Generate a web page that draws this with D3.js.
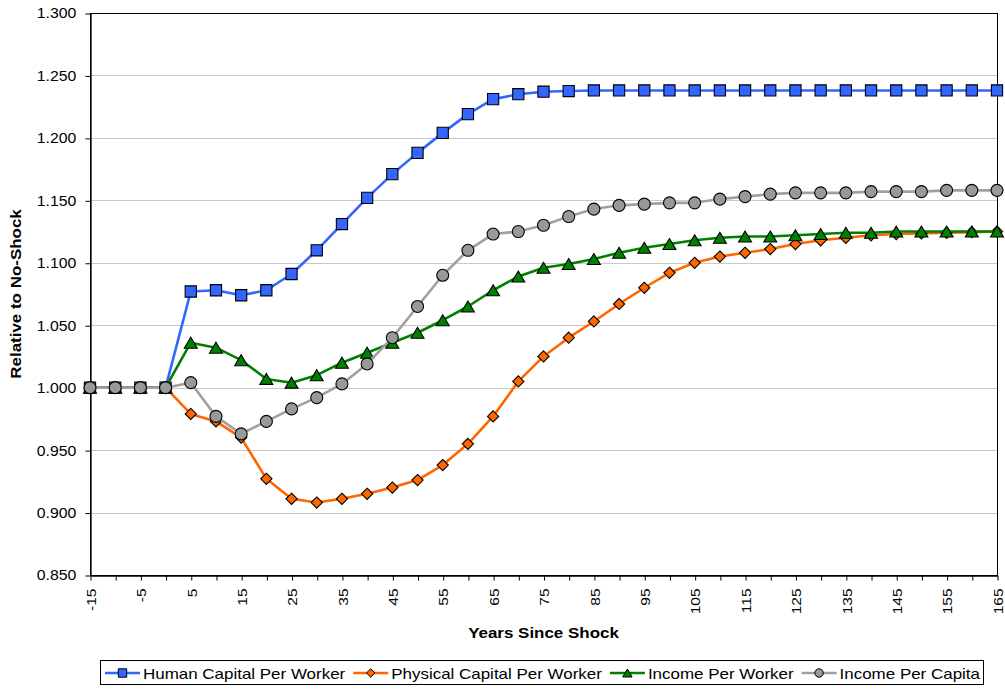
<!DOCTYPE html>
<html>
<head>
<meta charset="utf-8">
<script src="https://cdn.jsdelivr.net/npm/d3@7"></script>
<style>
  html, body { margin: 0; padding: 0; background: #fff; }
  svg { display: block; font-family: "Liberation Sans", Arial, sans-serif; }
</style>
</head>
<body>
<svg id="chart" width="1005" height="690"></svg>
<script>
// ---------------- DATA ----------------
const years = [-15, -10, -5, 0, 5, 10, 15, 20, 25, 30, 35, 40, 45, 50, 55, 60, 65, 70, 75, 80,
  85, 90, 95, 100, 105, 110, 115, 120, 125, 130, 135, 140, 145, 150, 155, 160, 165];

const humanCapital = [1.000, 1.000, 1.000, 1.000, 1.077, 1.078, 1.074, 1.078, 1.091, 1.110,
  1.131, 1.152, 1.171, 1.188, 1.204, 1.219, 1.231, 1.235, 1.237, 1.2375,
  1.238, 1.238, 1.238, 1.238, 1.238, 1.238, 1.238, 1.238, 1.238, 1.238,
  1.238, 1.238, 1.238, 1.238, 1.238, 1.238, 1.238];

const physicalCapital = [1.000, 1.000, 1.000, 1.000, 0.979, 0.973, 0.960, 0.927, 0.911, 0.908,
  0.911, 0.915, 0.920, 0.926, 0.938, 0.955, 0.977, 1.005, 1.025, 1.040,
  1.053, 1.067, 1.080, 1.092, 1.100, 1.105, 1.108, 1.111, 1.115, 1.118,
  1.120, 1.122, 1.123, 1.1235, 1.124, 1.1245, 1.125];

const incomeWorker = [1.000, 1.000, 1.000, 1.000, 1.036, 1.032, 1.022, 1.007, 1.004, 1.010,
  1.020, 1.028, 1.036, 1.044, 1.054, 1.065, 1.078, 1.089, 1.096, 1.099,
  1.103, 1.108, 1.112, 1.115, 1.118, 1.120, 1.121, 1.121, 1.122, 1.123,
  1.124, 1.124, 1.125, 1.125, 1.125, 1.125, 1.125];

const incomeCapita = [1.000, 1.000, 1.000, 1.000, 1.004, 0.977, 0.963, 0.973, 0.983, 0.992,
  1.003, 1.019, 1.040, 1.065, 1.090, 1.110, 1.123, 1.125, 1.130, 1.137,
  1.143, 1.146, 1.147, 1.148, 1.148, 1.151, 1.153, 1.155, 1.156, 1.156,
  1.156, 1.157, 1.157, 1.157, 1.158, 1.158, 1.158];

const seriesNames = ["Human Capital Per Worker", "Physical Capital Per Worker", "Income Per Worker", "Income Per Capita"];

const xTickLabels = ["-15", "-5", "5", "15", "25", "35", "45", "55", "65", "75", "85", "95",
  "105", "115", "125", "135", "145", "155", "165"];
const yTicks = [0.850, 0.900, 0.950, 1.000, 1.050, 1.100, 1.150, 1.200, 1.250, 1.300];

const xTitle = "Years Since Shock";
const yTitle = "Relative to No-Shock";

// ---------------- STYLE ----------------
const styles = [
  { color: "#3366FF", marker: "square" },
  { color: "#FF6600", marker: "diamond" },
  { color: "#008000", marker: "triangle" },
  { color: "#A0A0A0", fill: "#999999", marker: "circle" }
];
const seriesValues = [humanCapital, physicalCapital, incomeWorker, incomeCapita];

const M = { left: 90, right: 997, top: 13, bottom: 575 };

const svg = d3.select("#chart");

const x = d3.scalePoint().domain(years).range([M.left, M.right]).padding(0);
const y = d3.scaleLinear().domain([0.85, 1.3]).range([M.bottom, M.top]);

function markerPath(type, s) {
  switch (type) {
    case "square": return `M${-s},${-s}H${s}V${s}H${-s}Z`;
    case "diamond": return `M0,${-s}L${s},0L0,${s}L${-s},0Z`;
    case "triangle": return `M0,${-s}L${s * 1.18},${s}L${-s * 1.18},${s}Z`;
    case "circle": return d3.symbol(d3.symbolCircle, Math.PI * s * s)();
  }
}

// gridlines
svg.append("g")
  .selectAll("line")
  .data(yTicks)
  .join("line")
  .attr("x1", M.left).attr("x2", M.right)
  .attr("y1", d => Math.round(y(d)) + 0.5).attr("y2", d => Math.round(y(d)) + 0.5)
  .attr("stroke", "#c8c8c8").attr("stroke-width", 1);

// plot border
svg.append("rect")
  .attr("x", M.left + 0.5).attr("y", Math.round(M.top) + 0.5)
  .attr("width", M.right - M.left).attr("height", Math.round(M.bottom) - Math.round(M.top))
  .attr("fill", "none").attr("stroke", "#000").attr("stroke-width", 1);

// Y axis
const yAxis = svg.append("g")
  .attr("transform", `translate(${M.left + 0.5},0.5)`)
  .call(d3.axisLeft(y).tickValues(yTicks).tickFormat(d3.format(".3f")).tickSize(5).tickPadding(7.5).tickSizeOuter(0));
yAxis.select(".domain").attr("stroke", "#000").attr("stroke-width", 1.3);
yAxis.selectAll(".tick line").attr("stroke", "#000");
yAxis.selectAll("text")
  .attr("font-size", 14).attr("fill", "#000")
  .attr("font-family", "Liberation Sans, Arial, sans-serif")
  .attr("transform", "scale(1.13,1)");

// X axis
const xAxis = svg.append("g")
  .attr("transform", `translate(0.5,${Math.round(M.bottom) + 0.5})`)
  .call(d3.axisBottom(x).tickSize(5).tickSizeOuter(0)
    .tickFormat(d => xTickLabels.includes(String(d)) ? String(d) : ""));
xAxis.select(".domain").attr("stroke", "#000").attr("stroke-width", 1.3);
xAxis.selectAll(".tick line").attr("stroke", "#000");
xAxis.selectAll("text")
  .attr("font-size", 13.5).attr("fill", "#000")
  .attr("font-family", "Liberation Sans, Arial, sans-serif")
  .attr("text-anchor", "end")
  .attr("y", 0).attr("dy", "0.35em")
  .attr("x", -13 / 1.15)
  .attr("transform", "rotate(-90) scale(1.15,1)");

// Axis titles
svg.append("text")
  .attr("transform", `translate(${(M.left + M.right) / 2},638) scale(1.13,1)`)
  .attr("text-anchor", "middle")
  .attr("font-size", 15).attr("font-weight", "bold")
  .text(xTitle);

svg.append("text")
  .attr("transform", `translate(21,${(M.top + M.bottom) / 2}) rotate(-90) scale(1.13,1)`)
  .attr("text-anchor", "middle")
  .attr("font-size", 15).attr("font-weight", "bold")
  .text(yTitle);

// Series
const line = d3.line()
  .x((d, i) => x(years[i]))
  .y(d => y(d));

seriesValues.forEach((vals, si) => {
  const st = styles[si];
  const g = svg.append("g");
  g.append("path")
    .datum(vals)
    .attr("d", line)
    .attr("fill", "none")
    .attr("stroke", st.color)
    .attr("stroke-width", 2.6)
    .attr("stroke-linejoin", "round");
  const half = st.marker === "triangle" ? 5.5 : st.marker === "circle" ? 6 : 5.6;
  g.selectAll("path.mk")
    .data(vals)
    .join("path")
    .attr("class", "mk")
    .attr("transform", (d, i) => `translate(${x(years[i])},${y(d)})`)
    .attr("d", markerPath(st.marker, half))
    .attr("fill", st.fill || st.color)
    .attr("stroke", "#000")
    .attr("stroke-width", 1.1);
});

// Legend
const legend = svg.append("g");
legend.append("rect")
  .attr("x", 100.5).attr("y", 660.5).attr("width", 883).attr("height", 24)
  .attr("fill", "#fff").attr("stroke", "#000").attr("stroke-width", 1);

let lx = 105;
const ly = 673;
const legScale = 1.17;
seriesNames.forEach((name, si) => {
  const st = styles[si];
  legend.append("line")
    .attr("x1", lx).attr("x2", lx + 35)
    .attr("y1", ly).attr("y2", ly)
    .attr("stroke", st.color).attr("stroke-width", 2.6);
  const lh = st.marker === "triangle" ? 4 : 4.2;
  legend.append("path")
    .attr("transform", `translate(${lx + 17.5},${ly})`)
    .attr("d", markerPath(st.marker, lh))
    .attr("fill", st.fill || st.color)
    .attr("stroke", "#000").attr("stroke-width", 1);
  const t = legend.append("text")
    .attr("transform", `translate(${lx + 38},${ly + 5.5}) scale(${legScale},1)`)
    .attr("font-size", 14.5)
    .attr("fill", "#000")
    .text(name);
  const w = t.node().getComputedTextLength() * legScale;
  lx = lx + 38 + w + 8;
});
</script>
</body>
</html>
